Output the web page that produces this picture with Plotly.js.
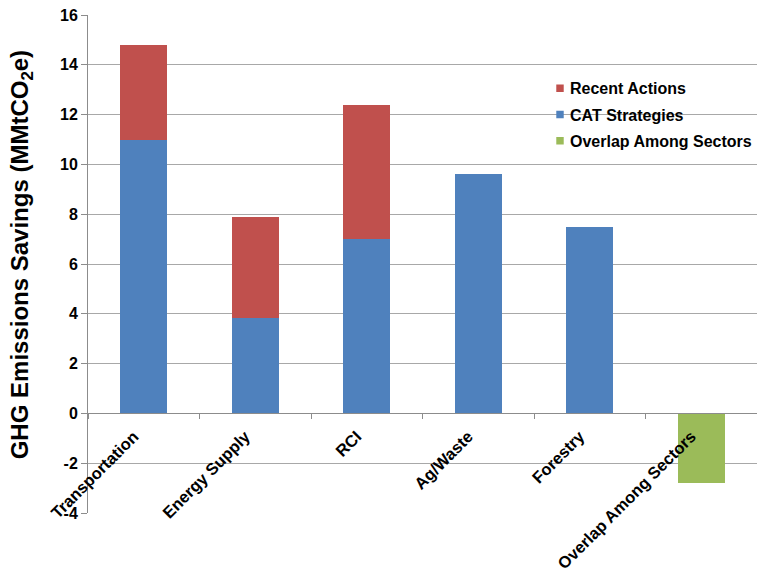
<!DOCTYPE html>
<html>
<head>
<meta charset="utf-8">
<script src="https://cdn.plot.ly/plotly-3.0.1.min.js"></script>
<style>
html, body { margin: 0; padding: 0; background: #fff; }
#chart { width: 757px; height: 572px; }
.legend .legendpoints path { transform: translate(30px, 0px) scale(0.62); }
</style>
</head>
<body>
<div id="chart"></div>
<script>
var categories = ["Transportation", "Energy Supply", "RCI", "Ag/Waste", "Forestry", "Overlap Among Sectors"];
var catStrategies = [11.0, 3.85, 7.0, 9.6, 7.5, null];
var recentActions = [3.8, 4.05, 5.4, null, null, null];
var overlapAmongSectors = [null, null, null, null, null, -2.8];
var yTickVals = [-4, -2, 0, 2, 4, 6, 8, 10, 12, 14, 16];
var yTickText = ["-4", "-2", "0", "2", "4", "6", "8", "10", "12", "14", "16"];
var yTitle = "GHG Emissions Savings (MMtCO<sub>2</sub>e)";

var barW = 0.42;
var traces = [
  { type: "bar", name: "CAT Strategies", x: categories, y: catStrategies, width: barW,
    marker: { color: "#4F81BD" }, legendrank: 2, legendgroup: "b", hoverinfo: "x+y" },
  { type: "bar", name: "Recent Actions", x: categories, y: recentActions, width: barW,
    marker: { color: "#C0504D" }, legendrank: 1, legendgroup: "a", hoverinfo: "x+y" },
  { type: "bar", name: "Overlap Among Sectors", x: categories, y: overlapAmongSectors, width: barW,
    marker: { color: "#9BBB59" }, legendrank: 3, legendgroup: "c", hoverinfo: "x+y" }
];

var fontFam = "Liberation Sans, Arial, sans-serif";
var layout = {
  width: 757, height: 572,
  margin: { l: 88, r: 0, t: 15, b: 59, pad: 0 },
  paper_bgcolor: "#fff", plot_bgcolor: "#fff",
  barmode: "stack",
  font: { family: fontFam, color: "#000" },
  showlegend: true,
  legend: {
    x: 0.661, y: 0.887, xanchor: "left", yanchor: "top",
    traceorder: "grouped",
    bgcolor: "rgba(255,255,255,0)",
    font: { family: fontFam, size: 16, weight: "bold", color: "#000" },
    tracegroupgap: 2.5, itemwidth: 30
  },
  xaxis: {
    type: "category",
    range: [-0.5, 5.5],
    anchor: "free", position: 0.2,
    showline: true, linecolor: "#8c8c8c", linewidth: 1,
    ticks: "outside", ticklen: 5, tickcolor: "#8c8c8c", tickson: "boundaries",
    showgrid: false, zeroline: false,
    tickangle: -45,
    ticklabelshift: -10, ticklabelstandoff: 6,
    tickfont: { family: fontFam, size: 16.5, weight: "bold", color: "#000" }
  },
  yaxis: {
    range: [-4, 16],
    tickvals: yTickVals, ticktext: yTickText,
    showline: true, linecolor: "#8c8c8c", linewidth: 1,
    ticks: "outside", ticklen: 6, tickcolor: "#8c8c8c",
    showgrid: true, gridcolor: "#a8a8a8", gridwidth: 1,
    zeroline: false,
    tickfont: { family: fontFam, size: 16, weight: "bold", color: "#000" }
  },
  annotations: [{
    text: yTitle, xref: "paper", yref: "paper",
    x: -0.099, y: 0.519, xanchor: "center", yanchor: "middle",
    textangle: -90, showarrow: false,
    font: { family: fontFam, size: 24, weight: "bold", color: "#000" }
  }]
};

Plotly.newPlot("chart", traces, layout, { displayModeBar: false, staticPlot: true });
</script>
</body>
</html>
